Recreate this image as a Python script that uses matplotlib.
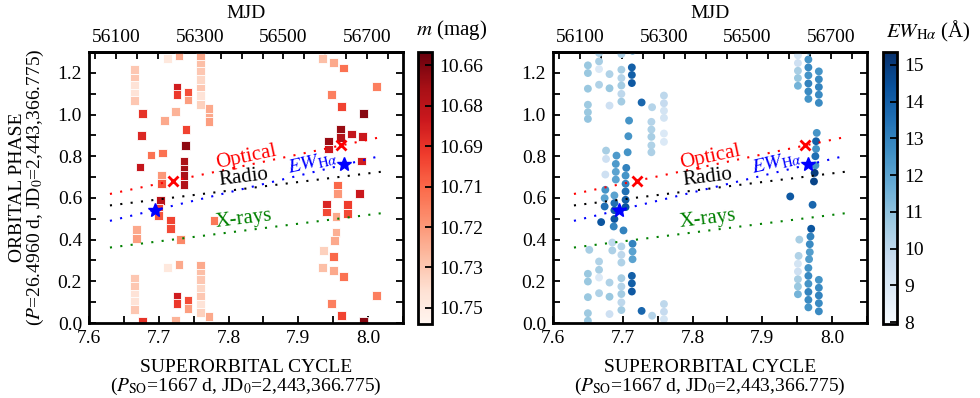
import numpy as np
import matplotlib
matplotlib.use('Agg')
import matplotlib.pyplot as plt
from matplotlib.ticker import MultipleLocator, FixedLocator

plt.rcParams['font.family'] = 'serif'
plt.rcParams['font.serif'] = ['Liberation Serif', 'DejaVu Serif']
plt.rcParams['mathtext.fontset'] = 'stix'
plt.rcParams['font.size'] = 14

# optical photometry: superorbital cycle, orbital phase, magnitude
cyc_m = [7.665, 7.665, 7.665, 7.665, 7.665, 7.668, 7.668, 7.677, 7.675, 7.673,
         7.689, 7.705, 7.708, 7.704, 7.704, 7.702, 7.700, 7.700, 7.713, 7.717,
         7.717, 7.724, 7.726, 7.726, 7.729, 7.731, 7.736, 7.736, 7.736, 7.736,
         7.738, 7.739, 7.742, 7.742, 7.760, 7.760, 7.760, 7.760, 7.760, 7.760,
         7.760, 7.772, 7.772, 7.772, 7.779,
         7.935, 7.950, 7.965, 8.012, 7.948, 7.962, 7.993, 7.960, 7.960, 7.976,
         7.992, 7.943, 7.943, 7.991, 7.956, 7.956, 7.988, 7.940, 7.940, 7.970,
         7.970, 7.954, 7.954, 7.952, 7.936, 7.950]
phase_m = [0.215, 0.175, 0.139, 0.103, 0.066, 0.447, 0.407, 0.006, 0.898, 0.748,
           0.806, 0.816, 0.970, 0.707, 0.668, 0.588, 0.548, 0.514, 0.268, 0.492,
           0.455, 0.014, 0.130, 0.095, 0.282, 0.399, 0.773, 0.736, 0.707, 0.663,
           0.851, 0.928, 0.107, 0.070, 0.276, 0.239, 0.207, 0.167, 0.127, 0.090,
           0.050, 0.030, 0.998, 0.965, 0.490,
           0.268, 0.250, 0.223, 0.133, 0.095, 0.037, 0.006, 0.928, 0.888, 0.907,
           0.893, 0.873, 0.835, 0.777, 0.660, 0.623, 0.623, 0.571, 0.532, 0.567,
           0.527, 0.511, 0.434, 0.396, 0.346, 0.319]
mag = [10.735, 10.735, 10.745, 10.745, 10.735, 10.725, 10.722, 10.690, 10.686, 10.678,
       10.708, 10.708, 10.725, 10.720, 10.700, 10.675, 10.695, 10.700, 10.748, 10.695,
       10.697, 10.728, 10.682, 10.692, 10.725, 10.715, 10.670, 10.668, 10.670, 10.672,
       10.663, 10.695, 10.698, 10.722, 10.725, 10.732, 10.735, 10.740, 10.735, 10.745,
       10.738, 10.725, 10.725, 10.722, 10.710,
       10.732, 10.725, 10.708, 10.712, 10.712, 10.695, 10.662, 10.665, 10.672, 10.678,
       10.680, 10.665, 10.680, 10.682, 10.705, 10.720, 10.680, 10.685, 10.697, 10.693,
       10.697, 10.725, 10.727, 10.725, 10.738, 10.705]

# H-alpha equivalent widths: superorbital cycle, orbital phase, EW
cyc_ew = [7.650, 7.650, 7.650, 7.650, 7.650, 7.650, 7.652,
          7.666, 7.666, 7.666, 7.666, 7.681, 7.681, 7.681,
          7.698, 7.698, 7.698, 7.698, 7.698, 7.698, 7.698, 7.698, 7.685, 7.685,
          7.714, 7.714, 7.714, 7.713, 7.713, 7.713, 7.727,
          7.742, 7.741, 7.741, 7.741, 7.741, 7.741,
          7.759, 7.759, 7.759, 7.759, 7.759, 7.759,
          7.709, 7.708, 7.707, 7.705, 7.704, 7.704, 7.704, 7.704, 7.704, 7.701,
          7.676, 7.676, 7.675, 7.675, 7.674, 7.674, 7.669,
          7.691, 7.690, 7.690, 7.690, 7.688, 7.688, 7.688, 7.688, 7.687,
          7.951, 7.951, 7.951, 7.951, 7.951, 7.953, 7.952,
          7.966, 7.966, 7.966, 7.966, 7.966, 7.966, 7.970, 7.969, 7.968, 7.968, 7.967,
          7.981, 7.981, 7.981, 7.981, 7.981,
          7.978, 7.977, 7.977, 7.976, 7.976, 7.975, 7.974, 7.940, 7.972]
phase_ew = [0.236, 0.199, 0.124, 0.047, 0.011, 0.979, 0.351,
            0.295, 0.255, 0.218, 0.143, 0.194, 0.126, 0.043,
            0.367, 0.327, 0.290, 0.215, 0.175, 0.139, 0.099, 0.062, 0.386, 0.348,
            0.380, 0.343, 0.306, 0.226, 0.190, 0.151, 0.058,
            0.035, 0.965, 0.928, 0.893, 0.852, 0.819,
            0.091, 0.054, 0.018, 0.984, 0.909, 0.869,
            0.971, 0.896, 0.819, 0.744, 0.707, 0.668, 0.631, 0.591, 0.556, 0.444,
            0.827, 0.787, 0.712, 0.639, 0.599, 0.559, 0.484,
            0.803, 0.763, 0.725, 0.688, 0.612, 0.575, 0.541, 0.499, 0.463,
            0.284, 0.247, 0.210, 0.175, 0.138, 0.400, 0.322,
            0.264, 0.226, 0.188, 0.149, 0.111, 0.075, 0.452, 0.415, 0.378, 0.340, 0.306,
            0.207, 0.169, 0.132, 0.095, 0.056,
            0.912, 0.872, 0.835, 0.800, 0.756, 0.720, 0.679, 0.607, 0.567]
ew = [10.8, 10.8, 10.8, 10.7, 10.8, 10.9, 10.5,
      10.3, 10.5, 9.0, 10.3, 10.3, 10.8, 9.5,
      10.2, 10.0, 10.3, 10.5, 10.2, 10.6, 10.0, 10.6, 10.0, 10.4,
      13.0, 12.0, 12.0, 14.0, 14.0, 14.2, 13.8,
      10.2, 10.2, 10.3, 10.5, 10.3, 10.4,
      10.0, 9.8, 9.3, 9.3, 9.0, 9.0,
      12.5, 12.5, 12.5, 13.0, 12.5, 13.0, 13.5, 14.0, 14.3, 13.0,
      10.5, 9.5, 9.5, 12.5, 12.0, 13.5, 14.3,
      12.3, 12.3, 12.0, 12.0, 12.0, 13.5, 14.0, 14.3, 13.0,
      9.3, 9.5, 10.5, 10.8, 11.5, 10.5, 10.3,
      12.5, 12.8, 12.5, 13.0, 12.8, 12.5, 14.3, 13.0, 12.8, 12.2, 12.2,
      12.5, 12.8, 13.0, 12.8, 12.8,
      12.5, 14.0, 12.5, 13.5, 12.5, 15.0, 14.8, 14.2, 13.8]

# fitted phase drifts (start / end of each dotted line)
line_cyc = [7.63, 8.02]
opt_line = [0.619, 0.893]
radio_line = [0.564, 0.726]
ew_line = [0.490, 0.803]
xray_line = [0.362, 0.527]

# markers on the drift lines
cross_cyc = [7.720, 7.961]
cross_phase = [0.679, 0.852]
star_cyc = [7.695, 7.966]
star_phase = [0.543, 0.764]

mjd_ticks = [56100, 56300, 56500, 56700]

P_SO = 1667.0
MJD0 = 43366.275


def c2mjd(c):
    return MJD0 + np.asarray(c) * P_SO


def mjd2c(m):
    return (np.asarray(m) - MJD0) / P_SO


def fold(c, p, v):
    c, p, v = np.asarray(c), np.asarray(p), np.asarray(v)
    up = p + 1.0 <= 1.31
    return (np.concatenate([c, c[up]]), np.concatenate([p, p[up] + 1.0]),
            np.concatenate([v, v[up]]))


fig = plt.figure(figsize=(9.8, 3.98), dpi=100)
W, H = 980.0, 398.0
ax1 = fig.add_axes([89 / W, 75 / H, 314 / W, 271 / H])
ax2 = fig.add_axes([553 / W, 75 / H, 314 / W, 271 / H])
cax1 = fig.add_axes([418 / W, 74 / H, 14 / W, 272 / H])
cax2 = fig.add_axes([883 / W, 74 / H, 14 / W, 272 / H])

dots = (0, (1, 4))


def decorate(ax):
    ax.set_xlim(7.6, 8.05)
    ax.set_ylim(0, 1.3)
    ax.xaxis.set_major_locator(MultipleLocator(0.1))
    ax.xaxis.set_minor_locator(MultipleLocator(0.05))
    ax.yaxis.set_major_locator(MultipleLocator(0.2))
    ax.yaxis.set_minor_locator(MultipleLocator(0.1))
    ax.tick_params(which='both', direction='in', top=False, right=True,
                   length=5, width=1.3)
    ax.tick_params(which='major', pad=5)
    for s in ax.spines.values():
        s.set_linewidth(2)
    ax.set_xlabel('SUPERORBITAL CYCLE\n($P_{\\rm SO}$=1667 d, JD$_0$=2,443,366.775)',
                  linespacing=0.95, labelpad=9)
    sec = ax.secondary_xaxis('top', functions=(c2mjd, mjd2c))
    sec.xaxis.set_major_locator(FixedLocator(mjd_ticks))
    sec.xaxis.set_minor_locator(MultipleLocator(50))
    sec.tick_params(which='both', direction='in', length=5, width=1.3)
    sec.tick_params(which='major', pad=4)
    sec.spines['top'].set_linewidth(2)
    sec.set_xlabel('MJD', labelpad=8)

    ax.plot(line_cyc, opt_line, color='red', ls=dots, lw=1.5, zorder=3)
    ax.plot(line_cyc, radio_line, color='black', ls=dots, lw=1.5, zorder=3)
    ax.plot(line_cyc, ew_line, color='blue', ls=dots, lw=1.5, zorder=3)
    ax.plot(line_cyc, xray_line, color='green', ls=dots, lw=1.5, zorder=3)
    ax.plot(cross_cyc, cross_phase, 'x', color='red', ms=7, mew=2, zorder=5)
    ax.plot(star_cyc, star_phase, '*', color='blue', ms=10, mec='blue', zorder=5)

    ax.text(7.825, 0.797, 'Optical', color='red', fontsize=15, rotation=12,
            ha='center', va='center', rotation_mode='anchor', zorder=6)
    ax.text(7.822, 0.697, 'Radio', color='black', fontsize=15, rotation=7,
            ha='center', va='center', rotation_mode='anchor', zorder=6)
    ax.text(7.921, 0.768, r'$EW_{\mathrm{H}\alpha}$', color='blue', fontsize=15,
            rotation=13, ha='center', va='center', rotation_mode='anchor', zorder=6)
    ax.text(7.822, 0.500, 'X-rays', color='green', fontsize=15, rotation=7,
            ha='center', va='center', rotation_mode='anchor', zorder=6)


# left panel: optical magnitude
c, p, v = fold(cyc_m, phase_m, mag)
sc1 = ax1.scatter(c, p, c=v, cmap='Reds_r', vmin=10.655, vmax=10.756, marker='s',
                  s=40, edgecolors='white', linewidths=0.6, zorder=2)
decorate(ax1)
ax1.set_ylabel('ORBITAL PHASE\n($P$=26.4960 d, JD$_0$=2,443,366.775)',
               linespacing=0.95, labelpad=8)

# right panel: H-alpha EW
c, p, v = fold(cyc_ew, phase_ew, ew)
sc2 = ax2.scatter(c, p, c=v, cmap='Blues', vmin=7.95, vmax=15.35, marker='o',
                  s=32, edgecolors='none', zorder=2)
decorate(ax2)

cb1 = fig.colorbar(sc1, cax=cax1)
cax1.invert_yaxis()
cb1.set_ticks([10.66, 10.675, 10.69, 10.705, 10.72, 10.735, 10.75])
cb1.set_ticklabels(['10.66', '10.68', '10.69', '10.71', '10.72', '10.73', '10.75'])
cb2 = fig.colorbar(sc2, cax=cax2)
cb2.set_ticks(range(8, 16))
for cb, cax in [(cb1, cax1), (cb2, cax2)]:
    cb.outline.set_linewidth(2)
    cax.tick_params(direction='in', length=5, width=1.3, pad=5)
    cax.minorticks_off()
fig.text(416 / W, 1 - 30 / H, '$m$ (mag)', ha='left', va='center', fontsize=15)
fig.text(886 / W, 1 - 31 / H, r'$EW_{\mathrm{H}\alpha}$ (Å)', ha='left',
         va='center', fontsize=15)

fig.savefig('out.png', dpi=100)
